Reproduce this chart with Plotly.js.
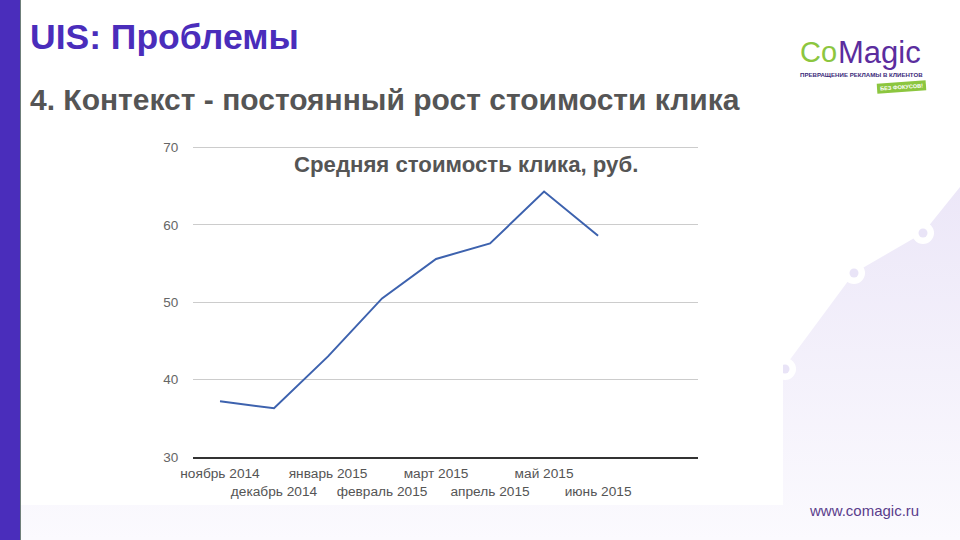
<!DOCTYPE html>
<html>
<head>
<meta charset="utf-8">
<script src="https://cdn.plot.ly/plotly-3.0.1.min.js"></script>
<style>
html,body{margin:0;padding:0;background:#fff;width:960px;height:540px;overflow:hidden}
#bg{position:absolute;left:0;top:0}
#chart{position:absolute;left:0;top:0;width:960px;height:540px}
</style>
</head>
<body>
<svg id="bg" width="960" height="540" viewBox="0 0 960 540">
<defs><linearGradient id="g" x1="0" y1="0" x2="0" y2="1">
<stop offset="0" stop-color="#ece7f8"/><stop offset="1" stop-color="#fbfafe"/></linearGradient></defs>
<path d="M20 505L783 505L783 369L854 273L923 233L960 187L960 540L20 540Z" fill="url(#g)"/>
<circle cx="785" cy="369" r="11" fill="#fff"/><circle cx="785" cy="369" r="4.5" fill="#e9e4f7"/>
<rect x="770" y="358" width="13" height="147" fill="#fff"/>
<circle cx="854" cy="273" r="11" fill="#fff"/><circle cx="854" cy="273" r="4.5" fill="#e9e4f7"/>
<circle cx="923" cy="233" r="11" fill="#fff"/><circle cx="923" cy="233" r="4.5" fill="#e9e4f7"/>
<rect x="0" y="0" width="20" height="540" fill="#4a2dbb"/>
<rect x="20" y="0" width="1" height="540" fill="#6f7f7a"/>
<g transform="rotate(-4 901.5 87)"><rect x="877" y="82" width="49" height="10" fill="#8cc63f"/></g>
</svg>
<div id="chart"></div>
<script>
var months = ["ноябрь 2014","декабрь 2014","январь 2015","февраль 2015","март 2015","апрель 2015","май 2015","июнь 2015"];
var positions = [0,1,2,3,4,5,6,7];
var clickCost = [37.2,36.3,43.0,50.5,55.6,57.6,64.3,58.6];
var tickLabels = months.map(function(m,i){return i%2 ? "<br>"+m : m;});
var slideTitle = "UIS: Проблемы";
var slideSubtitle = "4. Контекст - постоянный рост стоимости клика";
var chartTitle = "Средняя стоимость клика, руб.";
var siteUrl = "www.comagic.ru";

var F = "Liberation Sans, Arial, sans-serif";
function note(text,x,y,size,color,extra){
  var a = {text:text,x:x/960,y:1-y/540,xref:"paper",yref:"paper",xanchor:"left",yanchor:"middle",showarrow:false,
    borderpad:0,font:{family:F,size:size,color:color}};
  for(var k in extra||{}) a[k]=extra[k];
  return a;
}
function bold(size,color){return {family:F,size:size,color:color,weight:"bold"};}
Plotly.newPlot("chart",[{
  x:positions,y:clickCost,type:"scatter",mode:"lines",
  line:{color:"#3d62ae",width:2,shape:"linear"},hoverinfo:"skip"
}],{
  width:960,height:540,
  margin:{l:0,r:0,t:0,b:0},
  paper_bgcolor:"rgba(0,0,0,0)",plot_bgcolor:"rgba(0,0,0,0)",
  showlegend:false,
  xaxis:{domain:[193/960,698/960],range:[-0.5,8.85],tickmode:"array",tickvals:positions,ticktext:tickLabels,
    showgrid:false,zeroline:false,showline:true,linecolor:"#333",linewidth:1.5,ticks:"outside",ticklen:3,tickcolor:"rgba(0,0,0,0)",
    tickangle:0,tickfont:{family:F,size:13.7,color:"#555"}},
  yaxis:{domain:[1-457/540,1-145.18/540],range:[30,70.3],tickmode:"array",tickvals:[30,40,50,60,70],
    showgrid:true,gridcolor:"#cccccc",gridwidth:1,zeroline:false,showline:false,ticks:"outside",ticklen:11,tickcolor:"rgba(0,0,0,0)",
    tickfont:{family:F,size:13.5,color:"#666"}},
  annotations:[
    note(slideTitle,29,37,35.5,"#4a2dbb",{font:bold(35.5,"#4a2dbb")}),
    note(slideSubtitle,29,100,30,"#555",{font:bold(30,"#555")}),
    note(chartTitle,293,164,22.2,"#555",{font:bold(22.2,"#555")}),
    note(siteUrl,808,510,15,"#5a3d8c"),
    note("Co",799,52,29,"#8cc63f"),
    note("Magic",837,52,31,"#5b2d9e"),
    note("ПРЕВРАЩЕНИЕ РЕКЛАМЫ В КЛИЕНТОВ",799,75,6.1,"#3b2a7a",{font:bold(6.1,"#3b2a7a")}),
    note("БЕЗ ФОКУСОВ!",901.5,87,5.6,"#fff",{xanchor:"center",textangle:-4,font:bold(5.6,"#fff")})
  ]
},{displayModeBar:false,staticPlot:true});
</script>
</body>
</html>
